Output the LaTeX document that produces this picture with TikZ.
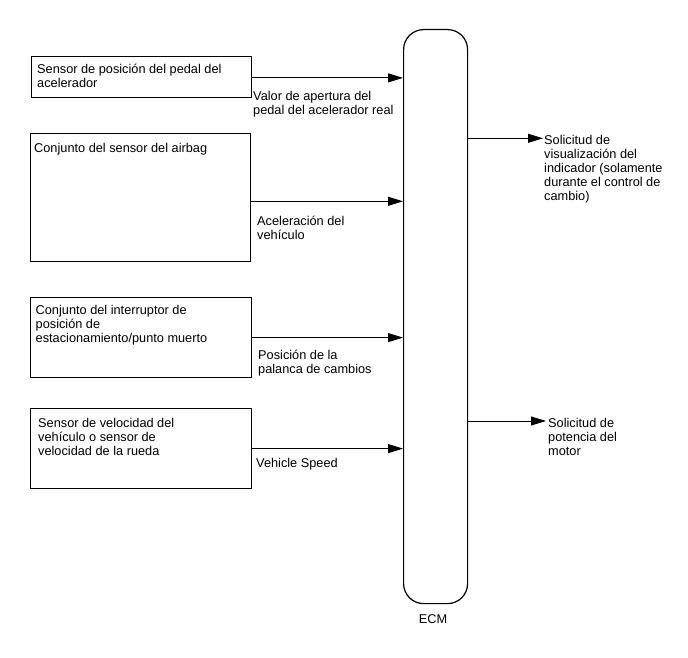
\documentclass[tikz,border=0pt]{standalone}
\usepackage{fontspec}
\setmainfont{Liberation Sans}
\usetikzlibrary{arrows.meta,calc}
\begin{document}
\begin{tikzpicture}[x=1pt,y=-1pt,
  box/.style={draw,line width=1.2pt,rectangle,inner sep=0,anchor=north west},
  ecmbox/.style={draw,line width=1.2pt,rectangle,rounded corners=20pt,inner sep=0,anchor=north west,minimum width=64pt,minimum height=574pt},
  txt/.style={anchor=north west,inner sep=0,align=left,font=\fontsize{12.75}{14}\selectfont},
  sig/.style={line width=1pt,-{Triangle[length=15pt,width=9pt]}}]
\useasboundingbox (0,0) rectangle (688,658);
% ECM
\node[ecmbox] (ecm) at (403,29) {};
\node[txt,anchor=north] (ecml) at (433,613.2) {\strut ECM};
% input boxes
\node[box,minimum width=220pt,minimum height=41pt] (b1) at (31,56) {};
\node[box,minimum width=220pt,minimum height=128pt] (b2) at (30,133) {};
\node[box,minimum width=221pt,minimum height=80pt] (b3) at (30,297) {};
\node[box,minimum width=221pt,minimum height=80pt] (b4) at (30,408) {};
\node[txt] (t1) at (37,63.2) {\strut Sensor de posición del pedal del\\acelerador};
\node[txt] (t2) at (34,142.2) {\strut Conjunto del sensor del airbag};
\node[txt] (t3) at (35.5,304.2) {\strut Conjunto del interruptor de\\posición de\\estacionamiento/punto muerto};
\node[txt] (t4) at (38,417.2) {\strut Sensor de velocidad del\\vehículo o sensor de\\velocidad de la rueda};
% input signals
\coordinate (a1) at ([yshift=-0.8pt]b1.east);
\coordinate (a2) at ([yshift=-3.7pt]b2.east);
\draw[sig] (a1) -- (ecm.west |- a1);
\draw[sig] (a2) -- (ecm.west |- a2);
\draw[sig] (b3.east) -- (ecm.west |- b3.east);
\draw[sig] (b4.east) -- (ecm.west |- b4.east);
\node[txt] (l1) at (253,90.2) {\strut Valor de apertura del\\pedal del acelerador real};
\node[txt] (l2) at (257,215.2) {\strut Aceleración del\\vehículo};
\node[txt] (l3) at (258,349.2) {\strut Posición de la\\palanca de cambios};
\node[txt] (l4) at (256,457.2) {\strut Vehicle Speed};
% outputs
\coordinate (o1) at (543,138.3);
\coordinate (o2) at (546,421);
\draw[sig] (ecm.east |- o1) -- (o1);
\draw[sig] (ecm.east |- o2) -- (o2);
\node[txt] (r1) at (544,134.2) {\strut Solicitud de\\visualización del\\indicador (solamente\\durante el control de\\cambio)};
\node[txt] (r2) at (548,417.2) {\strut Solicitud de\\potencia del\\motor};
\end{tikzpicture}
\end{document}
